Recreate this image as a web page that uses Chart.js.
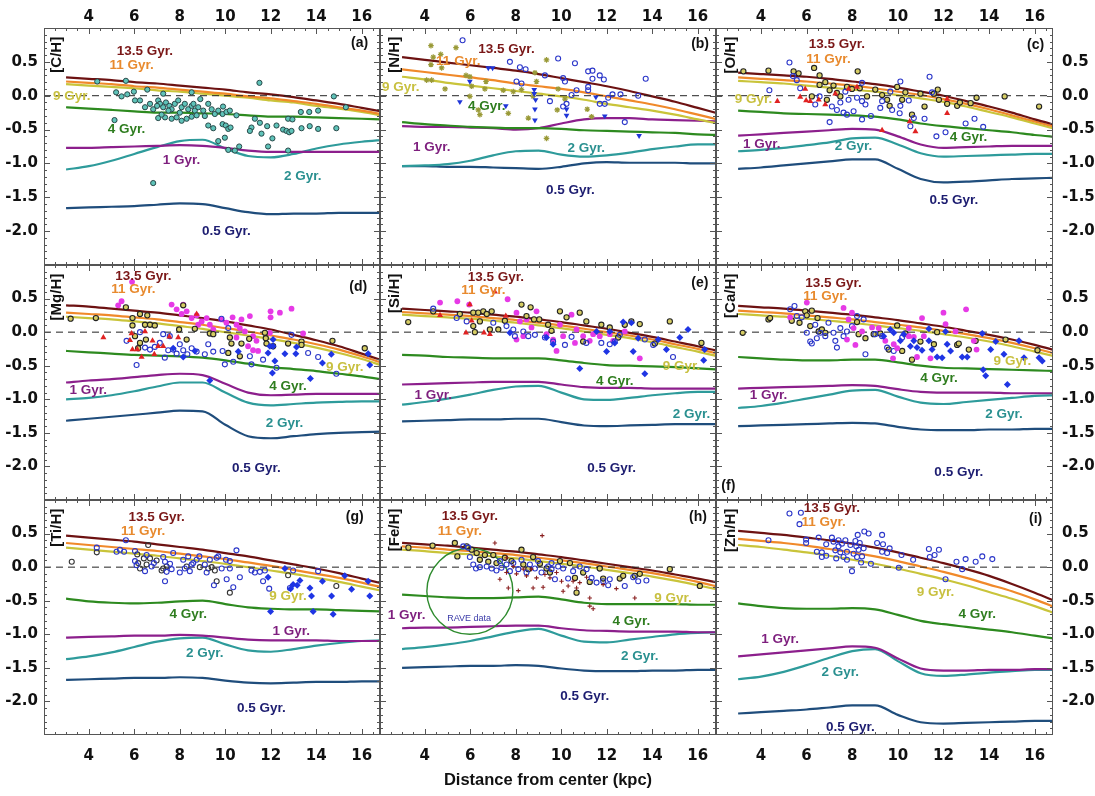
<!DOCTYPE html>
<html>
<head>
<meta charset="utf-8">
<script src="https://cdn.jsdelivr.net/npm/chart.js@4.4.1/dist/chart.umd.min.js"></script>
<style>
  body { margin: 0; background: #fff; width: 1095px; height: 796px; overflow: hidden; position: relative; }
  canvas { position: absolute; }
</style>
</head>
<body>
<script>
"use strict";
// ---- data ----
const distKpc = [3, 4, 5, 6, 7, 8, 9, 10, 11, 12, 13, 14, 15, 16, 17];
const xTickLabels = [4, 6, 8, 10, 12, 14, 16];
const yTickLabels = [0.5, 0, -0.5, -1, -1.5, -2];
const ages = ["13.5 Gyr.", "11 Gyr.", "9 Gyr.", "4 Gyr.", "1 Gyr.", "2 Gyr.", "0.5 Gyr."];

// model gradients, one row per age (same order as ages)
const carbonModels = [
  [0.27, 0.25, 0.23, 0.20, 0.18, 0.15, 0.12, 0.09, 0.05, 0.02, -0.02, -0.07, -0.12, -0.18, -0.24],
  [0.21, 0.19, 0.17, 0.14, 0.12, 0.09, 0.06, 0.03, -0.01, -0.04, -0.08, -0.12, -0.17, -0.22, -0.28],
  [0.17, 0.15, 0.13, 0.11, 0.08, 0.06, 0.03, 0.00, -0.03, -0.07, -0.10, -0.15, -0.19, -0.24, -0.30],
  [-0.17, -0.19, -0.21, -0.23, -0.25, -0.25, -0.26, -0.27, -0.29, -0.31, -0.31, -0.32, -0.33, -0.34, -0.35],
  [-0.77, -0.77, -0.76, -0.75, -0.74, -0.73, -0.74, -0.77, -0.81, -0.83, -0.83, -0.83, -0.83, -0.83, -0.83],
  [-1.09, -1.04, -0.96, -0.86, -0.76, -0.67, -0.65, -0.78, -0.89, -0.91, -0.86, -0.78, -0.72, -0.68, -0.65],
  [-1.66, -1.65, -1.64, -1.63, -1.61, -1.59, -1.60, -1.66, -1.72, -1.75, -1.74, -1.74, -1.73, -1.73, -1.73]
];
const nitrogenModels = [
  [0.57, 0.53, 0.49, 0.45, 0.41, 0.37, 0.32, 0.26, 0.20, 0.14, 0.07, -0.01, -0.09, -0.18, -0.27],
  [0.39, 0.35, 0.31, 0.27, 0.23, 0.18, 0.14, 0.10, 0.05, -0.01, -0.07, -0.13, -0.20, -0.28, -0.36],
  [0.28, 0.24, 0.19, 0.15, 0.11, 0.07, 0.03, -0.01, -0.06, -0.12, -0.17, -0.22, -0.28, -0.35, -0.42],
  [-0.39, -0.42, -0.44, -0.46, -0.47, -0.48, -0.48, -0.49, -0.51, -0.52, -0.53, -0.54, -0.55, -0.57, -0.58],
  [-0.45, -0.46, -0.46, -0.47, -0.48, -0.50, -0.48, -0.41, -0.35, -0.33, -0.33, -0.35, -0.36, -0.37, -0.38],
  [-1.04, -1.03, -1.01, -0.96, -0.88, -0.82, -0.81, -0.87, -0.90, -0.88, -0.84, -0.79, -0.75, -0.72, -0.72],
  [-1.04, -1.04, -1.05, -1.05, -1.06, -1.07, -1.08, -1.05, -1.00, -0.98, -0.99, -0.99, -0.99, -1.00, -1.00]
];
const oxygenModels = [
  [0.34, 0.32, 0.30, 0.28, 0.25, 0.21, 0.17, 0.12, 0.06, 0.00, -0.08, -0.16, -0.25, -0.35, -0.44],
  [0.27, 0.25, 0.23, 0.21, 0.18, 0.15, 0.11, 0.06, 0.01, -0.05, -0.12, -0.20, -0.29, -0.38, -0.47],
  [0.22, 0.20, 0.18, 0.15, 0.12, 0.09, 0.06, 0.01, -0.04, -0.09, -0.16, -0.24, -0.32, -0.41, -0.50],
  [-0.22, -0.24, -0.26, -0.27, -0.28, -0.29, -0.31, -0.35, -0.41, -0.45, -0.48, -0.51, -0.54, -0.58, -0.61],
  [-0.59, -0.57, -0.55, -0.53, -0.51, -0.49, -0.50, -0.60, -0.72, -0.77, -0.76, -0.75, -0.74, -0.74, -0.74],
  [-0.82, -0.80, -0.77, -0.73, -0.69, -0.63, -0.62, -0.72, -0.85, -0.90, -0.89, -0.88, -0.87, -0.86, -0.86],
  [-1.08, -1.06, -1.03, -1.00, -0.97, -0.94, -0.94, -1.08, -1.23, -1.28, -1.27, -1.25, -1.23, -1.22, -1.21]
];
const magnesiumModels = [
  [0.40, 0.38, 0.35, 0.32, 0.29, 0.25, 0.21, 0.16, 0.10, 0.04, -0.04, -0.12, -0.21, -0.32, -0.43],
  [0.29, 0.27, 0.25, 0.22, 0.19, 0.15, 0.11, 0.06, 0.01, -0.05, -0.11, -0.18, -0.26, -0.36, -0.47],
  [0.23, 0.21, 0.19, 0.16, 0.13, 0.09, 0.05, 0.00, -0.05, -0.10, -0.16, -0.23, -0.31, -0.40, -0.51],
  [-0.28, -0.30, -0.32, -0.34, -0.35, -0.36, -0.38, -0.42, -0.47, -0.52, -0.55, -0.58, -0.62, -0.66, -0.71],
  [-0.75, -0.72, -0.70, -0.67, -0.64, -0.62, -0.64, -0.77, -0.90, -0.94, -0.93, -0.92, -0.92, -0.92, -0.92],
  [-1.00, -0.98, -0.94, -0.88, -0.81, -0.75, -0.75, -0.90, -1.05, -1.09, -1.07, -1.05, -1.04, -1.03, -1.03],
  [-1.32, -1.29, -1.26, -1.23, -1.20, -1.17, -1.18, -1.38, -1.55, -1.58, -1.55, -1.52, -1.50, -1.49, -1.48]
];
const siliconModels = [
  [0.35, 0.33, 0.31, 0.29, 0.26, 0.23, 0.19, 0.15, 0.10, 0.05, -0.01, -0.07, -0.14, -0.21, -0.29],
  [0.30, 0.28, 0.26, 0.24, 0.21, 0.18, 0.14, 0.10, 0.05, 0.00, -0.05, -0.11, -0.18, -0.25, -0.33],
  [0.26, 0.24, 0.22, 0.20, 0.17, 0.14, 0.10, 0.06, 0.01, -0.04, -0.09, -0.15, -0.22, -0.29, -0.37],
  [-0.34, -0.35, -0.37, -0.38, -0.39, -0.39, -0.39, -0.42, -0.46, -0.49, -0.50, -0.51, -0.52, -0.54, -0.56],
  [-0.78, -0.77, -0.76, -0.75, -0.74, -0.74, -0.74, -0.78, -0.82, -0.83, -0.83, -0.84, -0.84, -0.84, -0.84],
  [-1.08, -1.04, -0.99, -0.93, -0.86, -0.81, -0.80, -0.90, -1.00, -1.01, -0.98, -0.94, -0.91, -0.89, -0.89],
  [-1.33, -1.32, -1.31, -1.30, -1.30, -1.29, -1.29, -1.34, -1.39, -1.40, -1.39, -1.38, -1.37, -1.37, -1.37]
];
const calciumModels = [
  [0.39, 0.37, 0.35, 0.32, 0.29, 0.26, 0.22, 0.18, 0.13, 0.08, 0.02, -0.04, -0.11, -0.19, -0.28],
  [0.32, 0.30, 0.28, 0.25, 0.22, 0.19, 0.15, 0.11, 0.07, 0.02, -0.03, -0.09, -0.16, -0.24, -0.33],
  [0.27, 0.25, 0.23, 0.20, 0.17, 0.14, 0.10, 0.06, 0.02, -0.03, -0.08, -0.14, -0.21, -0.29, -0.37],
  [-0.37, -0.39, -0.41, -0.42, -0.42, -0.41, -0.41, -0.45, -0.50, -0.53, -0.54, -0.55, -0.56, -0.57, -0.58],
  [-0.84, -0.83, -0.82, -0.81, -0.80, -0.79, -0.80, -0.85, -0.89, -0.90, -0.90, -0.90, -0.91, -0.91, -0.91],
  [-1.13, -1.10, -1.05, -0.99, -0.93, -0.87, -0.86, -0.96, -1.05, -1.07, -1.04, -1.01, -0.98, -0.95, -0.94],
  [-1.40, -1.39, -1.38, -1.37, -1.36, -1.35, -1.36, -1.41, -1.45, -1.46, -1.46, -1.45, -1.45, -1.44, -1.44]
];
const titaniumModels = [
  [0.47, 0.44, 0.41, 0.38, 0.34, 0.30, 0.26, 0.21, 0.16, 0.10, 0.04, -0.02, -0.09, -0.17, -0.25],
  [0.36, 0.33, 0.30, 0.27, 0.24, 0.20, 0.16, 0.12, 0.07, 0.02, -0.04, -0.10, -0.16, -0.23, -0.31],
  [0.29, 0.26, 0.23, 0.20, 0.17, 0.13, 0.09, 0.05, 0.00, -0.05, -0.10, -0.16, -0.22, -0.29, -0.36],
  [-0.47, -0.51, -0.53, -0.54, -0.53, -0.51, -0.50, -0.55, -0.60, -0.62, -0.63, -0.63, -0.64, -0.65, -0.66],
  [-1.05, -1.04, -1.03, -1.02, -1.02, -1.01, -1.02, -1.05, -1.08, -1.09, -1.09, -1.09, -1.10, -1.10, -1.10],
  [-1.37, -1.33, -1.27, -1.19, -1.11, -1.06, -1.05, -1.15, -1.24, -1.26, -1.22, -1.17, -1.13, -1.10, -1.09],
  [-1.68, -1.67, -1.66, -1.65, -1.65, -1.64, -1.65, -1.69, -1.72, -1.73, -1.72, -1.71, -1.71, -1.70, -1.70]
];
const ironModels = [
  [0.36, 0.34, 0.32, 0.29, 0.26, 0.23, 0.19, 0.15, 0.10, 0.05, 0.00, -0.05, -0.11, -0.17, -0.24],
  [0.31, 0.29, 0.26, 0.24, 0.21, 0.18, 0.14, 0.10, 0.06, 0.01, -0.04, -0.09, -0.15, -0.22, -0.30],
  [0.26, 0.24, 0.21, 0.19, 0.16, 0.13, 0.09, 0.05, 0.01, -0.04, -0.09, -0.14, -0.20, -0.27, -0.34],
  [-0.41, -0.43, -0.45, -0.46, -0.46, -0.45, -0.44, -0.48, -0.53, -0.55, -0.55, -0.55, -0.55, -0.56, -0.56],
  [-0.91, -0.90, -0.90, -0.89, -0.88, -0.87, -0.87, -0.91, -0.94, -0.95, -0.96, -0.96, -0.96, -0.97, -0.97],
  [-1.22, -1.19, -1.15, -1.10, -1.03, -0.96, -0.92, -1.02, -1.11, -1.12, -1.08, -1.04, -1.00, -0.98, -0.97],
  [-1.50, -1.49, -1.48, -1.47, -1.47, -1.46, -1.47, -1.51, -1.54, -1.55, -1.55, -1.54, -1.54, -1.53, -1.53]
];
const zincModels = [
  [0.54, 0.51, 0.48, 0.44, 0.40, 0.35, 0.29, 0.22, 0.14, 0.06, -0.03, -0.13, -0.25, -0.38, -0.52],
  [0.42, 0.39, 0.36, 0.32, 0.27, 0.22, 0.16, 0.09, 0.01, -0.07, -0.16, -0.26, -0.36, -0.48, -0.61],
  [0.33, 0.30, 0.26, 0.22, 0.17, 0.11, 0.05, -0.02, -0.10, -0.18, -0.27, -0.37, -0.47, -0.58, -0.70],
  [-0.54, -0.58, -0.61, -0.62, -0.62, -0.61, -0.63, -0.71, -0.80, -0.85, -0.89, -0.93, -0.97, -1.02, -1.07],
  [-1.33, -1.30, -1.27, -1.24, -1.21, -1.18, -1.20, -1.36, -1.51, -1.54, -1.54, -1.53, -1.53, -1.52, -1.52],
  [-1.67, -1.63, -1.56, -1.46, -1.35, -1.25, -1.22, -1.40, -1.58, -1.62, -1.60, -1.57, -1.55, -1.53, -1.53],
  [-2.18, -2.16, -2.14, -2.12, -2.09, -2.06, -2.06, -2.20, -2.31, -2.33, -2.32, -2.31, -2.30, -2.29, -2.29]
];

// observed stars [kpc, dex]
const carbonObs = [[4.37,0.21],[5.63,0.22],[11.5,0.19],[14.77,-0.01],[15.3,-0.17],[5.2,0.05],[5.44,-0.01],[5.69,0.02],[5.98,0.06],[6.57,0.09],[7.27,0.03],[8.52,0.05],[6.03,-0.07],[6.25,-0.07],[6.47,-0.17],[6.69,-0.12],[6.83,-0.2],[7.05,-0.07],[7.13,-0.12],[7.27,-0.17],[7.39,-0.1],[7.54,-0.15],[7.64,-0.2],[7.78,-0.12],[7.93,-0.07],[8.08,-0.17],[8.22,-0.12],[8.37,-0.2],[8.52,-0.15],[8.66,-0.22],[8.81,-0.17],[9.03,-0.22],[9.25,-0.12],[9.4,-0.2],[9.54,-0.27],[9.69,-0.22],[9.88,-0.27],[10.05,-0.24],[10.2,-0.22],[10.49,-0.29],[7.05,-0.33],[7.35,-0.32],[7.64,-0.34],[7.86,-0.32],[8.08,-0.37],[8.3,-0.34],[8.52,-0.31],[8.74,-0.29],[9.25,-0.44],[9.47,-0.48],[9.88,-0.42],[10.02,-0.44],[10.13,-0.49],[10.23,-0.47],[9.98,-0.62],[9.69,-0.67],[10.13,-0.8],[10.42,-0.81],[10.61,-0.75],[11.3,-0.34],[11.52,-0.4],[11.15,-0.47],[11.08,-0.52],[11.59,-0.56],[11.84,-0.45],[12.07,-0.63],[11.88,-0.75],[12.25,-0.44],[12.54,-0.5],[12.69,-0.52],[12.81,-0.54],[12.91,-0.52],[12.76,-0.34],[12.95,-0.35],[13.35,-0.48],[13.71,-0.45],[14.08,-0.49],[14.88,-0.48],[13.32,-0.24],[13.69,-0.24],[14.08,-0.22],[12.76,-0.81],[5.13,-0.36],[6.83,-1.29],[7.0,-0.15],[7.5,-0.22],[8.0,-0.25],[8.6,-0.12],[9.1,-0.3],[7.2,-0.28],[8.9,-0.05],[9.9,-0.16]];

const nitrogenStars = [[4.27,0.74],[5.37,0.71],[4.7,0.61],[4.37,0.57],[4.27,0.46],[4.74,0.41],[4.08,0.23],[4.3,0.23],[4.89,0.1],[5.81,0.3],[5.98,-0.01],[6.69,0.21],[6.06,0.14],[6.35,-0.21],[6.42,-0.28],[7.67,-0.26],[7.45,0.08],[7.89,0.06],[8.25,0.09],[8.84,0.34],[8.91,0.21],[8.55,-0.33],[9.35,-0.63],[9.35,0.53],[9.82,-0.21],[10.16,-0.05],[11.14,-0.2],[11.33,-0.31],[9.86,0.1],[8.76,-0.01],[5.98,0.28],[6.64,0.1]];
const nitrogenOpen = [[5.66,0.82],[7.74,0.5],[8.18,0.42],[8.43,0.39],[8.03,0.21],[8.25,0.18],[9.28,0.3],[9.86,0.55],[10.6,0.48],[10.08,0.26],[10.16,0.21],[10.67,0.08],[10.45,0.01],[9.5,-0.08],[10.08,-0.16],[10.23,-0.12],[11.18,0.36],[11.37,0.37],[11.37,0.25],[11.69,0.3],[11.87,0.24],[11.18,0.13],[11.18,0.08],[12.06,-0.03],[11.69,-0.12],[11.91,-0.12],[12.25,0.02],[12.6,0.02],[13.38,0],[13.71,0.25],[12.79,-0.39]];
const nitrogenTri = [[5.54,-0.09],[5.98,0.21],[6.79,0.41],[6.98,0.41],[7.56,-0.15],[8.81,0.09],[8.81,0.03],[8.87,-0.06],[8.84,-0.2],[8.84,-0.36],[10.23,-0.2],[10.23,-0.29],[11.52,-0.02],[11.91,-0.3],[13.42,-0.59]];

const oxygenGold = [[3.23,0.36],[4.33,0.37],[5.43,0.36],[5.65,0.33],[6.33,0.41],[6.57,0.3],[6.57,0.16],[6.82,0.2],[7.01,0.08],[7.18,0.15],[7.33,0.04],[7.48,-0.01],[7.77,0.13],[7.99,0.1],[8.24,0.36],[8.33,0.11],[8.65,-0.01],[9.01,0.09],[9.31,0.01],[9.53,-0.06],[9.64,-0.15],[9.97,0.13],[10.19,-0.06],[10.33,0.05],[10.62,-0.28],[10.99,0.03],[11.17,-0.16],[11.58,0.03],[11.75,0.09],[11.8,-0.06],[12.16,-0.12],[12.6,-0.15],[12.72,-0.1],[13.19,-0.11],[13.45,-0.03],[14.68,-0.01],[16.19,-0.16],[6.89,-0.06],[6.23,-0.01]];
const oxygenOpen = [[5.25,0.49],[5.4,0.29],[5.57,0.23],[4.37,0.08],[5.72,0.11],[6.38,-0.13],[6.57,-0.01],[7.11,-0.16],[7.33,-0.21],[7.48,-0.1],[7.7,0.06],[7.84,-0.06],[7.62,-0.25],[7.77,-0.28],[8.06,-0.23],[8.21,-0.03],[8.43,0.19],[8.43,-0.08],[8.58,-0.13],[8.43,-0.35],[8.82,-0.3],[7.01,-0.39],[9.23,-0.18],[9.31,-0.08],[9.67,0.06],[9.75,-0.21],[10.11,0.21],[10.11,-0.15],[10.08,-0.26],[10.48,-0.07],[10.55,-0.45],[10.7,-0.33],[11.17,-0.34],[11.39,0.28],[11.5,0.05],[12.09,-0.54],[11.69,-0.6],[12.97,-0.41],[13.36,-0.34],[13.74,-0.46]];
const oxygenTri = [[4.72,-0.08],[5.72,-0.02],[5.98,-0.07],[6.16,-0.08],[5.94,0.1],[6.53,-0.06],[6.82,-0.13],[7.26,0.03],[7.84,0.1],[8.21,0.13],[9.31,-0.51],[10.52,-0.38],[10.77,-0.53],[12.16,-0.26],[12.16,-0.05]];

const magnesiumMagenta = [[5.29,0.4],[5.44,0.46],[7.64,0.41],[7.86,0.34],[8.08,0.27],[8.3,0.31],[8.52,0.21],[8.74,0.25],[8.96,0.16],[9.18,0.21],[9.32,0.11],[9.83,0.19],[10.05,0.14],[10.32,0.22],[10.49,0.11],[10.64,0.06],[10.71,0.19],[11.08,0.24],[10.86,0.01],[11.22,-0.06],[11.37,-0.13],[11.44,-0.28],[11.99,0.31],[11.99,0.22],[12.4,0.29],[12.91,0.35],[11.96,-0.01],[13.42,-0.02],[8.15,0.41],[8.81,0.11],[9.47,0.04],[10.49,-0.08],[11.0,-0.21],[11.22,-0.27],[5.9,0.75]];
const magnesiumGold = [[3.2,0.2],[4.31,0.21],[5.63,0.37],[5.92,0.21],[5.92,0.1],[6.25,0.27],[6.57,0.25],[6.47,0.11],[6.69,0.11],[6.9,0.1],[6.03,-0.06],[6.25,-0.16],[6.17,-0.24],[6.51,-0.11],[8.15,0.4],[8.3,-0.11],[7.97,0.04],[8.66,0.05],[9.32,-0.02],[9.47,-0.03],[10.2,-0.08],[10.27,-0.17],[10.71,-0.17],[10.13,-0.31],[10.64,-0.36],[11.05,-0.1],[11.74,-0.01],[11.78,-0.09],[11.81,-0.17],[12.1,-0.21],[12.76,-0.17],[13.35,-0.14],[14.71,-0.13],[16.13,-0.24],[13.35,-0.19]];
const magnesiumOpen = [[5.66,-0.13],[6.1,-0.49],[6.47,-0.23],[6.69,-0.26],[6.9,-0.22],[7.12,-0.16],[7.27,-0.03],[7.34,-0.38],[7.49,-0.27],[7.71,-0.26],[7.86,-0.32],[8.0,-0.18],[8.15,-0.27],[8.33,-0.33],[8.52,-0.24],[8.74,-0.29],[9.1,-0.33],[9.25,-0.18],[9.47,-0.29],[9.83,0.2],[9.88,-0.28],[9.98,-0.48],[10.13,0.06],[10.35,-0.44],[11.08,-0.36],[11.15,-0.48],[11.66,-0.41],[12.25,-0.53],[12.91,-0.04],[13.64,-0.31],[14.08,-0.37],[14.88,-0.62],[6.25,0.0],[7.56,-0.06]];
const magnesiumDiamond = [[7.71,-0.24],[8.15,-0.37],[8.66,-0.28],[9.32,-0.72],[10.57,-0.29],[11.88,-0.31],[11.96,-0.21],[12.1,-0.21],[12.18,-0.43],[12.07,-0.61],[12.62,-0.32],[13.1,-0.32],[13.13,-0.22],[13.74,-0.69],[14.27,-0.46],[14.66,-0.33],[16.35,-0.49],[16.28,-0.32],[12.1,-0.11]];
const magnesiumTri = [[4.64,-0.08],[5.88,-0.02],[5.81,-0.12],[5.92,-0.26],[6.13,-0.26],[6.47,0.01],[6.8,-0.13],[6.88,-0.33],[7.05,-0.21],[7.27,-0.21],[7.54,-0.07],[7.93,-0.08],[8.74,0.27],[6.32,-0.37]];

const siliconMagenta = [[4.67,0.44],[5.43,0.46],[5.95,0.41],[7.64,0.49],[8.03,0.29],[8.18,0.16],[8.47,0.19],[8.69,0.07],[8.33,-0.06],[8.03,-0.11],[8.91,0.31],[9.94,0.11],[10.08,-0.06],[9.79,-0.28],[10.45,0.26],[10.67,0.04],[10.96,-0.06],[11.25,-0.13],[11.4,-0.03],[11.69,-0.06],[12.13,-0.03],[12.28,-0.13],[12.79,0.01],[13.45,-0.39],[9.35,-0.03],[9.64,-0.11],[10.6,-0.16]];
const siliconGold = [[3.27,0.15],[4.37,0.31],[5.54,0.27],[6.13,0.29],[6.35,0.29],[6.57,0.31],[6.72,0.27],[6.94,0.31],[6.42,0.16],[6.13,0.09],[6.2,0.0],[6.86,0.04],[7.23,0.04],[7.52,0.17],[8.25,0.41],[8.65,0.37],[8.47,0.24],[8.8,0.19],[9.03,0.19],[9.42,0.11],[9.57,0.02],[9.94,0.31],[10.23,0.22],[10.81,0.29],[11.1,0.16],[11.76,0.11],[12.13,0.07],[12.79,0.11],[13.08,0.16],[13.45,0.12],[14.11,-0.17],[14.77,0.16],[16.16,-0.16],[10.96,-0.14],[12.5,-0.08]];
const siliconOpen = [[4.37,0.35],[5.4,0.21],[5.84,0.16],[7.01,0.14],[7.59,0.09],[7.89,0.04],[7.96,-0.06],[8.33,0.01],[8.55,-0.06],[8.84,-0.04],[9.28,-0.08],[9.64,-0.14],[10.16,-0.19],[11.1,-0.16],[11.76,-0.16],[12.13,-0.18],[12.35,-0.14],[13.67,-0.11],[14.04,-0.19],[14.91,-0.37],[10.45,-0.07],[12.57,-0.04]];
const siliconDiamond = [[7.74,-0.01],[9.35,-0.08],[9.64,-0.18],[10.81,-0.54],[12.72,0.15],[13.08,0.14],[11.99,-0.29],[12.35,-0.16],[13.16,-0.29],[13.38,-0.09],[13.67,-0.62],[14.26,-0.11],[14.62,-0.26],[15.21,-0.08],[15.57,0.04],[16.26,-0.42],[16.3,-0.26],[11.55,0.01],[12.13,0.01]];
const siliconTri = [[4.67,0.25],[5.81,-0.01],[6.06,0.17],[5.98,0.41],[6.6,-0.01],[6.86,-0.03],[7.08,0.6],[7.56,0.24]];

const calciumOpen = [[5.28,0.34],[5.47,0.39],[5.57,0.24],[5.79,0.22],[6.01,-0.01],[6.16,-0.14],[6.23,-0.17],[6.38,0.11],[6.45,-0.09],[6.6,-0.01],[6.82,-0.06],[6.96,0.14],[7.18,-0.01],[7.26,-0.13],[7.33,-0.23],[7.48,0.06],[7.62,-0.06],[7.77,0.01],[7.99,0.09],[8.21,0.24],[8.5,0.19],[8.58,-0.33],[9.01,-0.03],[9.31,-0.06],[9.53,-0.23],[9.82,-0.28],[10.19,-0.08]];
const calciumGold = [[3.2,-0.01],[4.33,0.19],[4.4,0.21],[5.35,0.17],[5.69,0.14],[5.94,0.31],[6.01,0.25],[6.23,0.32],[6.48,0.21],[6.16,0.09],[6.53,0.01],[6.67,0.04],[6.82,-0.01],[8.21,0.15],[8.28,-0.03],[8.58,-0.09],[8.94,-0.03],[9.23,-0.02],[9.6,-0.26],[9.97,0.1],[10.19,-0.28],[10.33,-0.02],[10.62,-0.41],[10.99,-0.14],[11.58,-0.18],[11.72,0.0],[12.6,-0.19],[12.67,-0.17],[13.11,-0.26],[13.41,-0.13],[14.72,-0.11],[16.12,-0.27]];
const calciumMagenta = [[6.01,0.44],[5.28,0.22],[7.62,0.36],[7.99,0.29],[7.84,0.19],[8.06,0.06],[7.77,-0.11],[8.14,-0.19],[8.43,0.01],[8.87,0.07],[9.16,0.06],[9.45,-0.13],[9.79,-0.39],[9.97,-0.24],[10.48,0.06],[10.48,-0.06],[10.7,-0.07],[10.84,-0.37],[11.06,0.21],[11.14,-0.06],[12.0,0.29],[12.09,0.12],[12.53,0.01],[12.99,0.34],[13.33,-0.13],[13.45,-0.26],[11.43,-0.39],[9.82,-0.18]];
const calciumDiamond = [[9.38,-0.06],[9.67,0.04],[9.82,-0.01],[10.11,-0.13],[10.26,-0.03],[10.55,-0.21],[10.7,-0.13],[10.84,-0.23],[11.06,-0.27],[11.36,-0.13],[11.5,-0.26],[11.72,-0.37],[11.94,-0.38],[12.09,0.01],[12.16,-0.18],[12.31,-0.28],[12.82,-0.37],[13.04,-0.37],[13.7,-0.02],[13.74,-0.56],[13.85,-0.65],[14.07,-0.26],[14.29,-0.14],[14.65,-0.33],[14.8,-0.78],[15.31,-0.13],[15.53,-0.38],[16.19,-0.38],[16.33,-0.43],[11.36,0.05]];

const titaniumBlack = [[3.25,0.08],[4.35,0.22],[6.13,0.19],[6.17,0.06],[6.25,-0.02],[6.42,0.13],[6.61,0.33],[6.54,0.04],[6.69,0.13],[6.98,0.1],[7.2,-0.05],[7.27,-0.02],[7.42,0.01],[8.3,0.01],[8.88,0.0],[9.25,-0.02],[9.54,-0.05],[9.62,-0.21],[10.2,-0.38],[12.76,-0.12],[14.88,-0.28],[9.4,0.0]];
const titaniumOpen = [[4.35,0.29],[5.22,0.23],[5.37,0.26],[5.63,0.4],[5.55,0.23],[6.03,0.24],[6.03,0.09],[6.1,0.03],[6.54,0.18],[6.47,-0.06],[6.76,0.01],[6.86,0.06],[7.27,0.15],[7.35,0.08],[7.35,-0.21],[7.42,-0.07],[7.57,0.05],[7.64,-0.03],[7.71,0.21],[8.0,-0.08],[8.15,0.11],[8.22,-0.02],[8.37,0.16],[8.44,-0.06],[8.52,0.04],[8.59,0.06],[8.74,0.11],[8.86,0.16],[9.1,0.04],[9.18,-0.08],[9.32,0.11],[9.5,-0.27],[9.62,0.14],[9.69,0.16],[9.84,-0.02],[10.03,0.11],[10.06,-0.18],[10.2,0.09],[10.2,-0.02],[10.35,-0.3],[10.49,0.25],[10.64,-0.15],[11.15,-0.05],[11.3,-0.08],[11.52,-0.07],[11.74,-0.05],[11.93,-0.32],[11.66,-0.21],[12.98,-0.05],[12.84,-0.31],[14.08,-0.06]];
const titaniumDiamond = [[11.88,-0.15],[11.99,-0.66],[12.62,-0.02],[12.87,-0.32],[12.98,-0.26],[13.16,-0.27],[13.28,-0.2],[13.72,-0.31],[13.79,-0.43],[13.86,-0.66],[14.27,-0.21],[14.67,-0.43],[14.74,-0.7],[15.25,-0.13],[15.55,-0.33],[16.28,-0.21],[16.35,-0.43]];

const ironGold = [[3.28,0.29],[4.34,0.32],[5.32,0.36],[5.43,0.16],[5.84,0.31],[6.06,0.26],[6.28,0.21],[6.42,0.11],[6.64,0.18],[6.79,0.08],[7.01,0.18],[7.15,0.06],[7.52,0.14],[7.81,0.09],[8.25,0.26],[8.33,0.04],[8.55,-0.03],[8.76,0.15],[9.06,0.05],[9.35,-0.02],[9.5,-0.08],[9.94,0.09],[10.38,0.06],[10.6,-0.16],[10.67,-0.38],[10.96,-0.08],[11.25,-0.22],[11.69,-0.02],[11.84,-0.17],[12.57,-0.17],[12.72,-0.13],[13.23,-0.13],[13.45,-0.1],[14.77,-0.03],[16.09,-0.28]];
const ironOpen = [[5.69,0.31],[5.91,0.29],[5.98,0.15],[6.13,0.04],[6.25,-0.02],[6.42,0.0],[6.72,0.01],[6.94,-0.02],[7.15,-0.05],[7.37,-0.01],[7.59,0.04],[7.74,-0.06],[7.89,0.06],[8.11,-0.03],[8.25,0.11],[8.47,-0.08],[8.62,0.04],[8.84,-0.02],[8.98,0.09],[9.13,-0.08],[9.42,0.01],[9.57,-0.03],[9.72,-0.18],[9.86,0.01],[10.08,-0.02],[10.3,-0.17],[10.52,-0.06],[10.81,0.01],[11.11,-0.03],[11.33,-0.16],[11.55,-0.23],[11.84,-0.21],[12.06,-0.27],[12.13,-0.18],[12.79,-0.28],[13.16,-0.15],[13.38,-0.21],[13.74,-0.2],[9.57,0.06],[7.3,0.09]];
const ironCross = [[7.08,0.36],[7.59,0.14],[7.67,-0.31],[8.11,-0.35],[8.76,-0.31],[9.2,-0.3],[9.16,0.47],[7.89,0.01],[8.33,-0.03],[8.47,-0.13],[8.69,-0.03],[8.91,-0.16],[9.28,-0.11],[9.79,-0.08],[10.08,-0.36],[10.3,-0.28],[10.52,-0.21],[10.81,-0.23],[11.25,-0.46],[11.25,-0.58],[11.4,-0.62],[11.84,-0.26],[12.42,-0.32],[13.23,-0.46],[7.59,-0.08],[8.03,-0.1],[9.5,-0.16],[10.01,-0.21],[10.67,-0.31],[11.11,-0.15],[7.3,-0.18]];
const raveCentre = [[5.98, -0.36]];

const zincOpen = [[4.33,0.4],[5.25,0.8],[5.75,0.81],[5.69,0.64],[5.98,0.41],[5.98,0.36],[6.53,0.44],[6.45,0.23],[6.67,0.22],[6.67,0.15],[6.86,0.17],[6.86,0.34],[7.11,0.44],[7.18,0.38],[7.26,0.25],[7.3,0.13],[7.4,0.4],[7.48,0.22],[7.55,0.35],[7.62,0.15],[7.7,0.4],[7.77,0.23],[7.92,0.33],[7.99,-0.06],[8.06,0.2],[8.14,0.39],[8.18,0.31],[8.24,0.48],[8.28,0.26],[8.33,0.36],[8.39,0.07],[8.43,0.16],[8.5,0.28],[8.53,0.53],[8.72,0.5],[8.82,0.05],[9.09,0.36],[9.31,0.48],[9.35,0.34],[9.31,0.23],[9.53,0.21],[9.64,0.28],[10.04,-0.01],[10.16,0.18],[10.67,0.11],[11.36,0.27],[11.4,0.15],[11.61,0.18],[11.8,0.26],[12.09,-0.18],[12.57,0.08],[12.82,-0.03],[12.97,0.12],[13.41,0.08],[13.7,0.16],[14.14,0.12],[7.4,0.31],[7.77,0.11],[8.21,0.15]];

// ---- styling / layout ----
const xMin = 2.03, xMax = 16.8, yMin = -2.5, yMax = 1.0;
const lineColors = ["#6d1212", "#f0892a", "#c9c43a", "#2d8a1f", "#8c1f8c", "#2e9b9b", "#1f4d7c"];
const textColors = ["#7a1717", "#e88a2e", "#c8c040", "#2f7d1f", "#7e1f7e", "#2a9090", "#1c1c70"];
const markStyles = {
  teal:    { pointStyle: "circle", pointRadius: 2.6, pointBackgroundColor: "#5fc3b9", pointBorderColor: "#294848", pointBorderWidth: 1 },
  open:    { pointStyle: "circle", pointRadius: 2.5, pointBackgroundColor: "rgba(255,255,255,0)", pointBorderColor: "#2b36c9", pointBorderWidth: 1.1 },
  black:   { pointStyle: "circle", pointRadius: 2.5, pointBackgroundColor: "rgba(255,255,255,0)", pointBorderColor: "#333", pointBorderWidth: 1.1 },
  gold:    { pointStyle: "circle", pointRadius: 2.6, pointBackgroundColor: "#d6cd64", pointBorderColor: "#222", pointBorderWidth: 1.1 },
  magenta: { pointStyle: "circle", pointRadius: 2.9, pointBackgroundColor: "#e63ae6", pointBorderColor: "#e63ae6", pointBorderWidth: 0 },
  diamond: { pointStyle: "rectRot", pointRadius: 3.5, pointBackgroundColor: "#1f35e4", pointBorderColor: "#1f35e4", pointBorderWidth: 0 },
  redTri:  { pointStyle: "triangle", pointRadius: 3.5, pointBackgroundColor: "#e02222", pointBorderColor: "#e02222", pointBorderWidth: 0 },
  blueTri: { pointStyle: "triangle", pointRotation: 180, pointRadius: 3.3, pointBackgroundColor: "#1f35d8", pointBorderColor: "#1f35d8", pointBorderWidth: 0 },
  star:    { pointStyle: "star", pointRadius: 2.8, pointBackgroundColor: "#9a9a38", pointBorderColor: "#9a9a38", pointBorderWidth: 1.2 },
  cross:   { pointStyle: "cross", pointRadius: 2.2, pointBackgroundColor: "#8a2020", pointBorderColor: "#8a2020", pointBorderWidth: 1.1 },
  rave:    { pointStyle: "circle", pointRadius: 43, pointBackgroundColor: "rgba(0,0,0,0)", pointBorderColor: "#2e8b2e", pointBorderWidth: 1.4 }
};

const panels = [
  { tag: "a", elem: "[C/H]", models: carbonModels, marks: [["teal", carbonObs]], tagPos: [15.9, 0.78], elemX: 2.6,
    agePos: [[6.46, 0.66], [5.88, 0.45], [3.25, -0.01], [5.66, -0.49], [8.07, -0.96], [13.4, -1.19], [10.05, -2.0]] },
  { tag: "b", elem: "[N/H]", models: nitrogenModels, marks: [["blueTri", nitrogenTri], ["open", nitrogenOpen], ["star", nitrogenStars]], tagPos: [16.1, 0.76], elemX: 2.7,
    agePos: [[7.59, 0.69], [5.47, 0.51], [2.94, 0.13], [6.72, -0.16], [4.3, -0.76], [11.1, -0.77], [10.4, -1.39]] },
  { tag: "c", elem: "[O/H]", models: oxygenModels, marks: [["redTri", oxygenTri], ["open", oxygenOpen], ["gold", oxygenGold]], tagPos: [16.04, 0.75], elemX: 2.7,
    agePos: [[7.33, 0.76], [6.96, 0.54], [3.67, -0.05], [13.1, -0.62], [4.04, -0.72], [8.06, -0.75], [12.46, -1.54]] },
  { tag: "d", elem: "[Mg/H]", models: magnesiumModels, marks: [["redTri", magnesiumTri], ["diamond", magnesiumDiamond], ["open", magnesiumOpen], ["gold", magnesiumGold], ["magenta", magnesiumMagenta]], tagPos: [15.84, 0.67], elemX: 2.6,
    agePos: [[6.4, 0.83], [5.96, 0.64], [15.25, -0.53], [12.76, -0.8], [3.98, -0.87], [12.6, -1.35], [11.37, -2.03]] },
  { tag: "e", elem: "[Si/H]", models: siliconModels, marks: [["redTri", siliconTri], ["diamond", siliconDiamond], ["open", siliconOpen], ["gold", siliconGold], ["magenta", siliconMagenta]], tagPos: [16.09, 0.73], elemX: 2.7,
    agePos: [[7.12, 0.82], [6.57, 0.62], [15.28, -0.51], [12.35, -0.73], [4.37, -0.94], [15.72, -1.23], [12.21, -2.03]] },
  { tag: "f", elem: "[Ca/H]", models: calciumModels, marks: [["diamond", calciumDiamond], ["magenta", calciumMagenta], ["open", calciumOpen], ["gold", calciumGold]], tagPos: [2.57, -2.29], elemX: 2.7,
    agePos: [[7.18, 0.73], [6.82, 0.54], [15.02, -0.43], [11.8, -0.68], [4.33, -0.94], [14.65, -1.23], [12.67, -2.09]] },
  { tag: "g", elem: "[Ti/H]", models: titaniumModels, marks: [["diamond", titaniumDiamond], ["open", titaniumOpen], ["black", titaniumBlack]], tagPos: [15.69, 0.75], elemX: 2.6,
    agePos: [[6.98, 0.75], [6.39, 0.54], [12.76, -0.43], [8.37, -0.7], [12.9, -0.96], [9.1, -1.29], [11.59, -2.1]] },
  { tag: "h", elem: "[Fe/H]", models: ironModels, marks: [["cross", ironCross], ["open", ironOpen], ["gold", ironGold], ["rave", raveCentre]], tagPos: [16.01, 0.75], elemX: 2.7,
    agePos: [[5.98, 0.76], [5.54, 0.54], [14.91, -0.46], [13.08, -0.81], [3.2, -0.72], [13.45, -1.33], [11.03, -1.93]] },
  { tag: "i", elem: "[Zn/H]", models: zincModels, marks: [["open", zincOpen]], tagPos: [16.04, 0.71], elemX: 2.7,
    agePos: [[7.11, 0.87], [6.75, 0.67], [11.65, -0.38], [13.48, -0.7], [4.84, -1.08], [7.48, -1.56], [7.92, -2.38]] }
];

const colLeft = [44, 380, 716], colW = [336, 336, 337];
const rowTop = [28, 265, 500], rowH = [237, 235, 235];
const tickFont = { family: "'DejaVu Sans', sans-serif", weight: "bold", size: 15 };
const labelFont = "'Liberation Sans', Arial, sans-serif";

// frame with inward ticks on all four sides
const framePlugin = {
  id: "frame",
  afterDatasetsDraw(chart) {
    const { ctx, chartArea: a, scales: { x, y } } = chart;
    ctx.save();
    ctx.strokeStyle = "#555";
    ctx.lineWidth = 1;
    ctx.strokeRect(a.left + 0.5, a.top + 0.5, a.width - 1, a.height - 1);
    ctx.beginPath();
    for (let k = 5; k <= 33; k++) {
      const v = k / 2;
      if (v < xMin || v > xMax) continue;
      const px = Math.round(x.getPixelForValue(v)) + 0.5;
      const len = k % 4 === 0 ? 6 : 3;
      ctx.moveTo(px, a.top); ctx.lineTo(px, a.top + len);
      ctx.moveTo(px, a.bottom); ctx.lineTo(px, a.bottom - len);
    }
    for (let k = -24; k <= 9; k++) {
      const py = Math.round(y.getPixelForValue(k / 10)) + 0.5;
      const len = k % 5 === 0 ? 6 : 3;
      ctx.moveTo(a.left, py); ctx.lineTo(a.left + len, py);
      ctx.moveTo(a.right, py); ctx.lineTo(a.right - len, py);
    }
    ctx.stroke();
    ctx.restore();
  }
};

function textPlugin(p) {
  return {
    id: "panelText",
    afterDatasetsDraw(chart) {
      const { ctx, scales: { x, y } } = chart;
      ctx.save();
      ctx.textAlign = "center";
      ctx.textBaseline = "middle";
      ctx.font = "bold 13.5px " + labelFont;
      ages.forEach((t, k) => {
        ctx.fillStyle = textColors[k];
        ctx.fillText(t, x.getPixelForValue(p.agePos[k][0]), y.getPixelForValue(p.agePos[k][1]));
      });
      ctx.fillStyle = "#111";
      ctx.font = "bold 14px " + labelFont;
      ctx.fillText("(" + p.tag + ")", x.getPixelForValue(p.tagPos[0]), y.getPixelForValue(p.tagPos[1]));
      if (p.tag === "h") {
        ctx.fillStyle = "#3a3aa8";
        ctx.font = "9px " + labelFont;
        ctx.fillText("RAVE data", x.getPixelForValue(5.95), y.getPixelForValue(-0.77));
      }
      ctx.save();
      ctx.translate(x.getPixelForValue(p.elemX), y.getPixelForValue(0.87));
      ctx.rotate(-Math.PI / 2);
      ctx.textAlign = "right";
      ctx.fillStyle = "#111";
      ctx.font = "bold 15px " + labelFont;
      ctx.fillText(p.elem, 0, 0);
      ctx.restore();
      ctx.restore();
    }
  };
}

panels.forEach((p, i) => {
  const col = i % 3, row = Math.floor(i / 3);
  const padL = col === 0 ? 44 : 0, padR = col === 2 ? 42 : 0;
  const padT = row === 0 ? 28 : 0, padB = row === 2 ? 61 : 0;
  const w = colW[col] + padL + padR, h = rowH[row] + padT + padB;
  const cv = document.createElement("canvas");
  cv.width = w; cv.height = h;
  cv.style.width = w + "px"; cv.style.height = h + "px";
  cv.style.left = (colLeft[col] - padL) + "px";
  cv.style.top = (rowTop[row] - padT) + "px";
  document.body.appendChild(cv);

  const datasets = [];
  p.marks.forEach(([style, pts]) => {
    datasets.push(Object.assign({ data: pts.map(([x, y]) => ({ x, y })), showLine: false }, markStyles[style]));
  });
  datasets.push({ data: [{ x: xMin, y: 0 }, { x: xMax, y: 0 }], showLine: true, borderColor: "#222", borderWidth: 1, borderDash: [7, 5], pointRadius: 0 });
  p.models.forEach((vals, k) => {
    datasets.push({
      data: distKpc.map((d, j) => ({ x: d, y: vals[j] })),
      showLine: true, borderColor: lineColors[k], borderWidth: 2.2, pointRadius: 0,
      cubicInterpolationMode: "monotone"
    });
  });

  const showX = row !== 1, showY = col !== 1;
  new Chart(cv, {
    type: "scatter",
    data: { datasets },
    options: {
      responsive: false, animation: false, devicePixelRatio: 1,
      layout: { padding: 0, autoPadding: false },
      plugins: { legend: { display: false }, tooltip: { enabled: false } },
      scales: {
        x: {
          type: "linear", min: xMin, max: xMax,
          position: row === 0 ? "top" : "bottom",
          display: showX,
          grid: { display: false, drawTicks: false }, border: { display: false },
          ticks: { font: tickFont, color: "#111", padding: row === 0 ? 2 : 12, maxRotation: 0 },
          afterBuildTicks: s => { s.ticks = xTickLabels.map(v => ({ value: v })); },
          afterFit: s => {
            if (!showX) return;
            s.height = row === 0 ? 28 : 61; s.paddingLeft = 0; s.paddingRight = 0;
          },
          title: {
            display: i === 7, text: "Distance from center (kpc)", color: "#111",
            font: { family: labelFont, weight: "bold", size: 16.5 }, padding: { top: 2, bottom: 6 }
          }
        },
        y: {
          type: "linear", min: yMin, max: yMax,
          position: col === 2 ? "right" : "left",
          display: showY,
          grid: { display: false, drawTicks: false }, border: { display: false },
          ticks: { font: tickFont, color: "#111", padding: col === 0 ? 6 : 9, callback: v => v.toFixed(1) },
          afterBuildTicks: s => { s.ticks = yTickLabels.map(v => ({ value: v })); },
          afterFit: s => {
            if (!showY) return;
            s.width = col === 0 ? 44 : 42; s.paddingTop = 0; s.paddingBottom = 0;
          }
        }
      }
    },
    plugins: [framePlugin, textPlugin(p)]
  });
});
</script>
</body>
</html>
